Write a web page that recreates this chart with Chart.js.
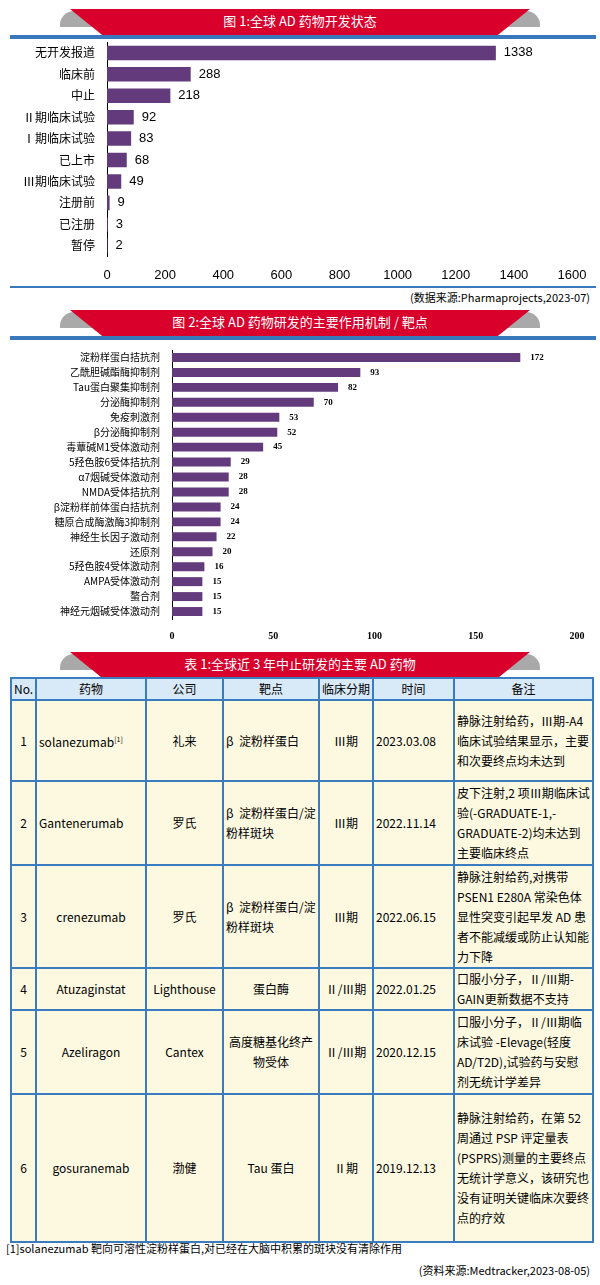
<!DOCTYPE html>
<html><head><meta charset="utf-8">
<script src="https://cdn.jsdelivr.net/npm/chart.js@4"></script>
<style>
body{margin:0;background:#fff;font-family:"Noto Sans CJK SC","Noto Sans",sans-serif;}
#page{position:relative;width:600px;height:1285px;overflow:hidden;}
.ban{position:absolute;left:60px;width:480px;height:26px;}
.ban .g{position:absolute;top:2px;width:50px;height:16px;background:#a9a9a9;border-radius:14px 14px 0 0;}
.ban .r{position:absolute;left:10px;right:10px;top:0;height:26px;background:#d9002b;clip-path:polygon(0 0,100% 0,93% 100%,7% 100%);color:#fff;font-size:13px;text-align:center;line-height:24px;}
.line{position:absolute;left:10px;width:586px;height:4px;background:#3a78be;}
.src{position:absolute;right:10px;font-size:11px;}
canvas{position:absolute;left:0;}
table{position:absolute;left:10px;top:677px;width:582px;border-collapse:collapse;table-layout:fixed;font-size:12px;}
td,th{border:2px solid #3a7cc0;background:#fdf9e1;padding:0 2px;line-height:20px;}
th{background:#d8e9f7;font-weight:normal;height:20px;line-height:18px;}
td.c{text-align:center;}
</style></head><body>
<div id="page">
<div class="ban" style="top:9px"><div class="g" style="left:0"></div><div class="g" style="right:0"></div><div class="r">图 1:全球 AD 药物开发状态</div></div>
<div class="line" style="top:35px"></div>
<canvas id="c1" width="600" height="255" style="top:31px;width:600px;height:255px"></canvas>
<div class="line" style="top:286px;height:2px"></div>
<div class="src" style="top:289px">(数据来源:Pharmaprojects,2023-07)</div>
<div class="ban" style="top:310px"><div class="g" style="left:0"></div><div class="g" style="right:0"></div><div class="r">图 2:全球 AD 药物研发的主要作用机制 / 靶点</div></div>
<div class="line" style="top:336px"></div>
<canvas id="c2" width="600" height="305" style="top:340px;width:600px;height:305px"></canvas>
<div class="ban" style="top:652px"><div class="g" style="left:0"></div><div class="g" style="right:0"></div><div class="r">表 1:全球近 3 年中止研发的主要 AD 药物</div></div>
<table>
<colgroup><col style="width:25px"><col style="width:110px"><col style="width:77px"><col style="width:96px"><col style="width:54px"><col style="width:81px"><col style="width:139px"></colgroup>
<tr><th>No.</th><th>药物</th><th>公司</th><th>靶点</th><th>临床分期</th><th>时间</th><th>备注</th></tr>
<tr style="height:81px"><td class="c">1</td><td>solanezumab<sup style="font-size:7px">[1]</sup></td><td class="c">礼来</td><td>β&nbsp; 淀粉样蛋白</td><td class="c">Ⅲ期</td><td>2023.03.08</td><td>静脉注射给药，Ⅲ期-A4 临床试验结果显示，主要和次要终点均未达到</td></tr>
<tr style="height:84px"><td class="c">2</td><td>Gantenerumab</td><td class="c">罗氏</td><td>β&nbsp; 淀粉样蛋白/淀粉样斑块</td><td class="c">Ⅲ期</td><td>2022.11.14</td><td>皮下注射,2 项Ⅲ期临床试验(-GRADUATE-1,-GRADUATE-2)均未达到主要临床终点</td></tr>
<tr style="height:103px"><td class="c">3</td><td class="c">crenezumab</td><td class="c">罗氏</td><td>β&nbsp; 淀粉样蛋白/淀粉样斑块</td><td class="c">Ⅲ期</td><td>2022.06.15</td><td>静脉注射给药,对携带 PSEN1 E280A 常染色体显性突变引起早发 AD 患者不能减缓或防止认知能力下降</td></tr>
<tr style="height:38px"><td class="c">4</td><td class="c">Atuzaginstat</td><td class="c">Lighthouse</td><td class="c">蛋白酶</td><td class="c">Ⅱ/Ⅲ期</td><td>2022.01.25</td><td>口服小分子，Ⅱ/Ⅲ期-GAIN更新数据不支持</td></tr>
<tr style="height:84px"><td class="c">5</td><td class="c">Azeliragon</td><td class="c">Cantex</td><td class="c">高度糖基化终产物受体</td><td class="c">Ⅱ/Ⅲ期</td><td>2020.12.15</td><td>口服小分子，Ⅱ/Ⅲ期临床试验 -Elevage(轻度 AD/T2D),试验药与安慰剂无统计学差异</td></tr>
<tr style="height:148px"><td class="c">6</td><td class="c">gosuranemab</td><td class="c">渤健</td><td class="c">Tau 蛋白</td><td class="c">Ⅱ期</td><td>2019.12.13</td><td>静脉注射给药，在第 52 周通过 PSP 评定量表(PSPRS)测量的主要终点无统计学意义，该研究也没有证明关键临床次要终点的疗效</td></tr>
</table>
<div style="position:absolute;left:6px;top:1240px;font-size:11px">[1]solanezumab 靶向可溶性淀粉样蛋白,对已经在大脑中积累的斑块没有清除作用</div>
<div class="src" style="top:1262px">(资料来源:Medtracker,2023-08-05)</div>
</div>
<script>
var cats1 = ['无开发报道','临床前','中止','Ⅱ期临床试验','Ⅰ期临床试验','已上市','Ⅲ期临床试验','注册前','已注册','暂停'];
var vals1 = [1338,288,218,92,83,68,49,9,3,2];
var cats2 = ['淀粉样蛋白拮抗剂','乙酰胆碱酯酶抑制剂','Tau蛋白聚集抑制剂','分泌酶抑制剂','免疫刺激剂','β分泌酶抑制剂','毒蕈碱M1受体激动剂','5羟色胺6受体拮抗剂','α7烟碱受体激动剂','NMDA受体拮抗剂','β淀粉样前体蛋白拮抗剂','糖原合成酶激酶3抑制剂','神经生长因子激动剂','还原剂','5羟色胺4受体激动剂','AMPA受体激动剂','螯合剂','神经元烟碱受体激动剂'];
var vals2 = [172,93,82,70,53,52,45,29,28,28,24,24,22,20,16,15,15,15];

var valueLabels = {
  id: 'valueLabels',
  afterDatasetsDraw: function (chart, args, opts) {
    var ctx = chart.ctx;
    ctx.save();
    ctx.font = opts.font;
    ctx.fillStyle = '#000';
    ctx.textBaseline = 'middle';
    chart.getDatasetMeta(0).data.forEach(function (bar, i) {
      ctx.fillText(chart.data.datasets[0].data[i], bar.x + opts.gap, bar.y);
    });
    ctx.restore();
  }
};

function makeChart(id, cats, vals, max, step, left, right, top, bar, labelFont, tickFont, valFont, gap) {
  new Chart(document.getElementById(id), {
    type: 'bar',
    data: { labels: cats, datasets: [{ data: vals, backgroundColor: '#633a7c', barPercentage: bar, categoryPercentage: 1 }] },
    options: {
      indexAxis: 'y', responsive: false, animation: false,
      layout: { padding: { left: 0, right: 600 - right, top: top, bottom: 0 } },
      plugins: { legend: { display: false }, tooltip: { enabled: false }, valueLabels: { font: valFont, gap: gap } },
      scales: {
        x: { min: 0, max: max, ticks: { stepSize: step, font: tickFont, color: '#000', callback: function (v) { return String(v); } },
             grid: { display: false }, border: { display: false } },
        y: {
          afterFit: function (s) { s.width = left; },
          ticks: { font: labelFont, color: '#000', autoSkip: false, padding: 4 },
          grid: { display: false }, border: { color: '#000' }
        }
      }
    },
    plugins: [valueLabels]
  });
}
makeChart('c1', cats1, vals1, 1600, 200, 107, 572, 10, 0.68,
  { size: 12, family: 'Noto Sans CJK SC' }, { size: 13, family: 'Liberation Sans' }, '13px Liberation Sans', 8);
makeChart('c2', cats2, vals2, 200, 50, 172, 577, 2, 0.6,
  { size: 10, family: 'Noto Sans CJK SC' }, { size: 10, weight: 'bold', family: 'Liberation Serif' }, 'bold 9px Liberation Serif', 10);
</script>
</body></html>
